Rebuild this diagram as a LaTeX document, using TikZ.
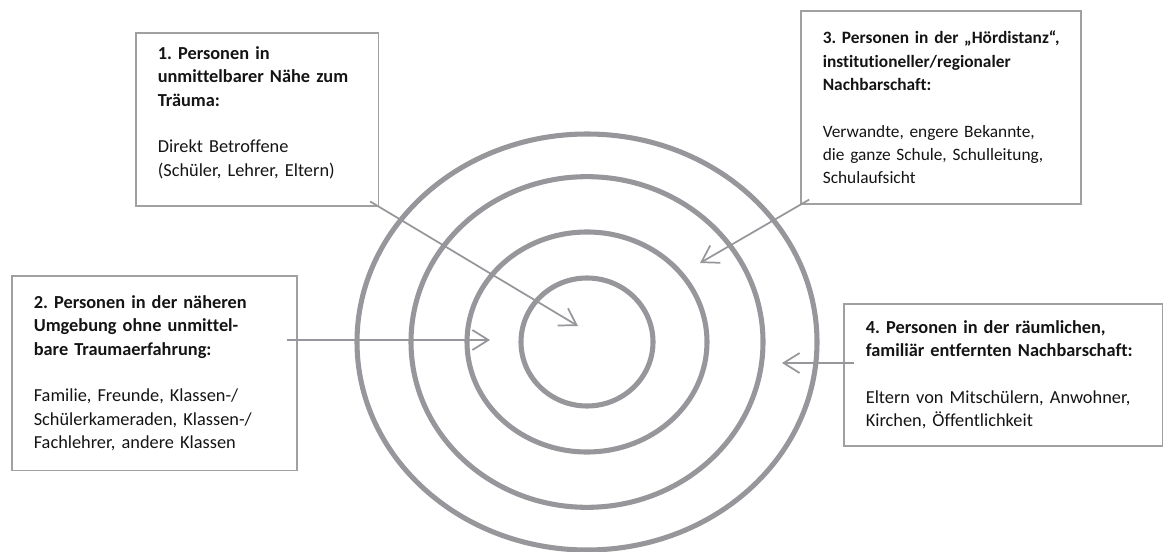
\documentclass[tikz,border=0pt]{standalone}
\usepackage{fontspec}
\setmainfont{Carlito}[WordSpace=0.8, Ligatures=NoCommon]
\usepackage{tikz}
\usetikzlibrary{arrows.meta, positioning, calc}
\definecolor{ringgray}{RGB}{150,150,155}
\definecolor{boxgray}{RGB}{160,160,160}
\definecolor{txtgray}{RGB}{20,20,20}
\tikzset{
    infobox/.style={rectangle, draw=boxgray, line width=1.2pt, anchor=north west,
                    align=left, inner xsep=16.5pt, inner ysep=0pt, text=txtgray,
                    font=\fontsize{13.75}{17.5}\selectfont\frenchspacing},
    ring/.style={draw=ringgray, line width=3.8pt},
    pointer/.style={-{Straight Barb[length=12pt, width=15pt]}, draw=ringgray,
                    line width=1.3pt, shorten <=-8pt},
}
\newcommand{\blankline}{\\[17.5pt]}

\begin{document}
\begin{tikzpicture}[x=0.75pt, y=-0.75pt]
    \useasboundingbox (0,0) rectangle (1164,552);
    % rings
    \coordinate (ctr) at (587,342);
    \draw[ring] (ctr) ellipse [x radius=49.5pt, y radius=48pt];
    \draw[ring] (ctr) ellipse [x radius=90pt, y radius=82.5pt];
    \draw[ring] (ctr) ellipse [x radius=132pt, y radius=124pt];
    \draw[ring] (ctr) ellipse [x radius=172.5pt, y radius=156pt];
    % boxes
    \node[infobox, text width=149pt, minimum height=130pt] (box1) at (135,32) {%
        \textbf{1. Personen in\\ unmittelbarer Nähe zum\\ Träuma:}\blankline
        Direkt Betroffene\\ (Schüler, Lehrer, Eltern)\par\vspace{10pt}};
    \node[infobox, text width=181pt, minimum height=146pt] (box2) at (11,275) {%
        \textbf{2. Personen in der näheren\\ Umgebung ohne unmittel-\\ bare Traumaerfahrung:}\blankline
        Familie, Freunde, Klassen-/\\ Schülerkameraden, Klassen-/\\ Fachlehrer, andere Klassen};
    \node[infobox, text width=177pt, minimum height=145pt,
          font=\fontsize{13}{17.5}\selectfont\frenchspacing] (box3) at (800,10) {%
        \textbf{\mbox{3. Personen in der „Hördistanz“,}\\ institutioneller/regionaler\\ Nachbarschaft:}\blankline
        Verwandte, engere Bekannte,\\ \mbox{die ganze Schule, Schulleitung,}\\ Schulaufsicht};
    \node[infobox, text width=206pt, minimum height=106.5pt] (box4) at (843,303) {%
        \textbf{4. Personen in der räumlichen,\\ \mbox{familiär entfernten Nachbarschaft:}}\blankline
        Eltern von Mitschülern, Anwohner,\\ Kirchen, Öffentlichkeit};
    % arrow tips
    \coordinate (tip1) at (578,326);
    \coordinate (tip2) at (490,340);
    \coordinate (tip3) at (700,263);
    \coordinate (tip4) at (782,363);
    \draw[pointer] (box1.south east) -- (tip1);
    \draw[pointer] (box2.east |- tip2) -- (tip2);
    \draw[pointer] (box3.south west) -- (tip3);
    \draw[pointer] (box4.west |- tip4) -- (tip4);
\end{tikzpicture}
\end{document}
